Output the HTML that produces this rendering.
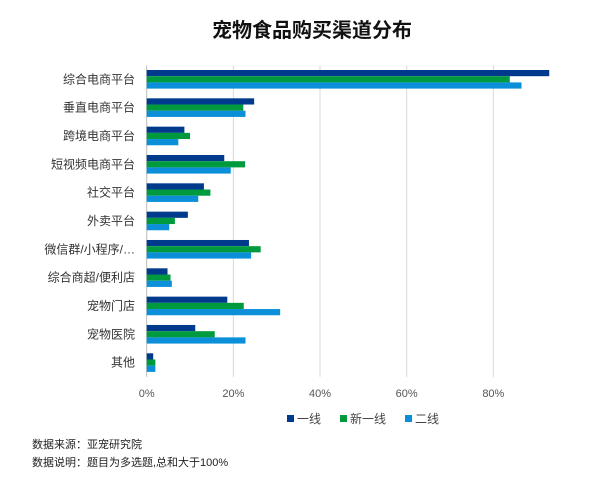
<!DOCTYPE html>
<html><head><meta charset="utf-8"><style>
body{margin:0;background:#fff;width:600px;height:491px;overflow:hidden;font-family:"Liberation Sans","Noto Sans CJK SC",sans-serif;}
</style></head><body>
<svg width="600" height="491" id="chart" xmlns="http://www.w3.org/2000/svg">
<text x="312" y="37" text-anchor="middle" font-size="20" font-weight="bold" fill="#111" font-family="Liberation Sans, Noto Sans CJK SC, sans-serif">宠物食品购买渠道分布</text>
<g id="grid"></g><g id="bars"></g><g id="labels" font-family="Liberation Sans, Noto Sans CJK SC, sans-serif"></g>
<g font-size="12" fill="#444" font-family="Liberation Sans, Noto Sans CJK SC, sans-serif">
<g><rect x="287" y="415" width="7" height="7" fill="#003a8c"/><text x="297" y="423">一线</text></g>
<g><rect x="340" y="415" width="7" height="7" fill="#009a3e"/><text x="350" y="423">新一线</text></g>
<g><rect x="405" y="415" width="7" height="7" fill="#0b8fd9"/><text x="415" y="423">二线</text></g>
</g>
<text x="32" y="448" font-size="11" fill="#222" font-family="Liberation Sans, Noto Sans CJK SC, sans-serif">数据来源：亚宠研究院</text>
<text x="32" y="466" font-size="11" fill="#222" font-family="Liberation Sans, Noto Sans CJK SC, sans-serif">数据说明：题目为多选题,总和大于100%</text>
</svg>
<script>
const categories=["综合电商平台","垂直电商平台","跨境电商平台","短视频电商平台","社交平台","外卖平台","微信群/小程序/…","综合商超/便利店","宠物门店","宠物医院","其他"];
const tier1=[92.9,24.8,8.7,17.9,13.2,9.5,23.6,4.8,18.6,11.2,1.5];
const newTier1=[83.8,22.3,10.0,22.7,14.7,6.5,26.3,5.5,22.4,15.7,2.0];
const tier2=[86.5,22.8,7.3,19.4,11.9,5.2,24.1,5.8,30.8,22.8,2.0];
const ticks=[0,20,40,60,80];
const NS="http://www.w3.org/2000/svg";
const x0=146.7,pxPer=4.333,plotTop=65.2,band=28.33;
const xs=v=>x0+v*pxPer;
const ys=i=>plotTop+i*band;
const grid=document.getElementById('grid'),bars=document.getElementById('bars'),labels=document.getElementById('labels');
function mk(tag,attrs,parent){const e=document.createElementNS(NS,tag);for(const k in attrs)e.setAttribute(k,attrs[k]);parent.appendChild(e);return e;}
ticks.forEach(t=>{
 const l=mk('line',{x1:xs(t),x2:xs(t),y1:plotTop,y2:plotTop+band*categories.length,stroke:t===0?'#bbb':'#d9d9d9','stroke-width':1},grid);
 
 
 const tx=mk('text',{x:xs(t),y:397,'text-anchor':'middle','font-size':11,fill:'#555'},labels);
 tx.textContent=t+'%';
 
 
});
const series=[[tier1,'#003a8c','tier1'],[newTier1,'#009a3e','new-tier1'],[tier2,'#0b8fd9','tier2']];
categories.forEach((c,i)=>{
 const tx=mk('text',{x:135,y:ys(i)+band/2+4,'text-anchor':'end','font-size':12,fill:'#333'},labels);
 tx.textContent=c;
 
 
 series.forEach((s,j)=>{
  const r=mk('rect',{x:x0,y:ys(i)+4.8+j*6.2,width:Math.max(0,xs(s[0][i])-x0),height:6.2,fill:s[1]},bars);
  
  
 });
});
</script>
</body></html>
